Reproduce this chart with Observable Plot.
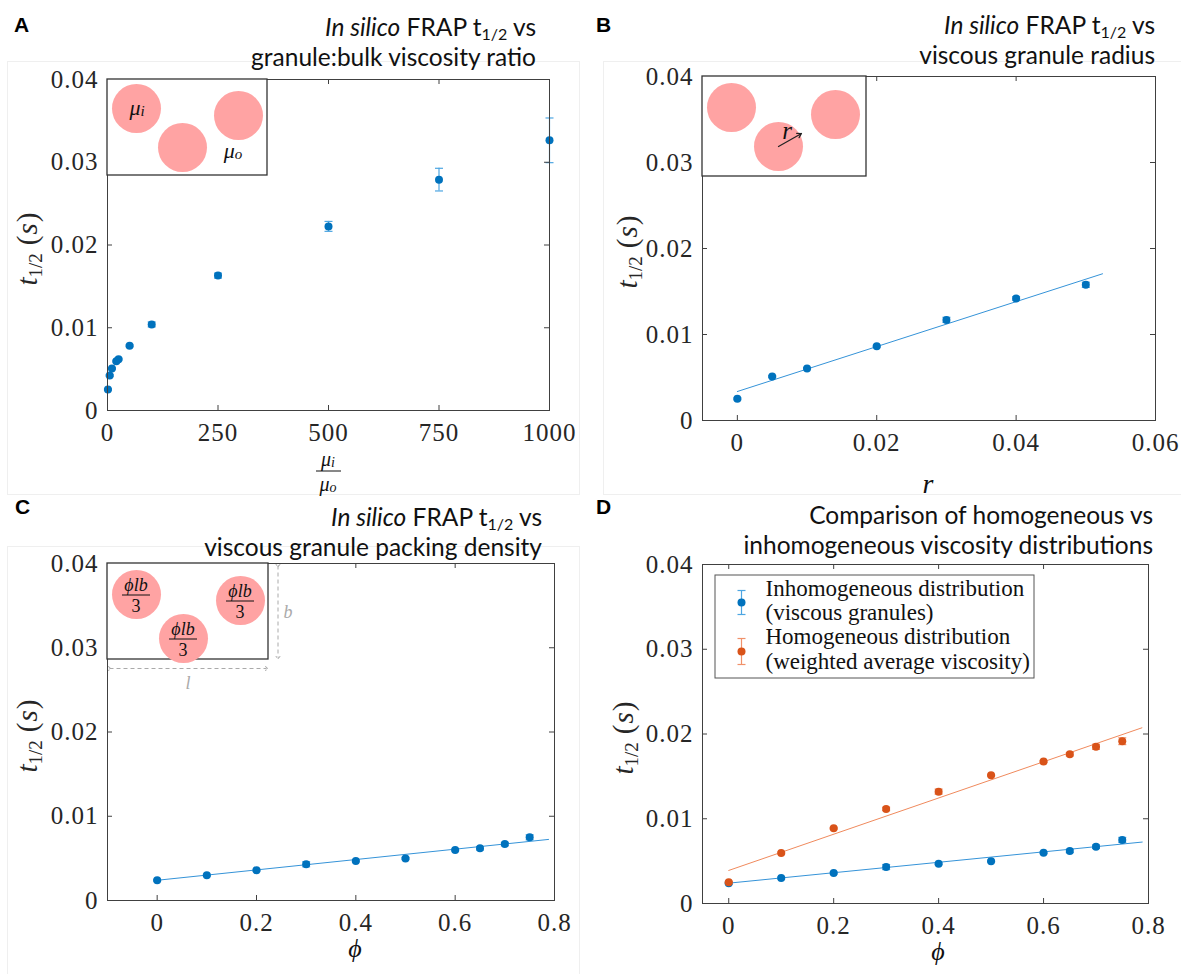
<!DOCTYPE html>
<html><head><meta charset="utf-8">
<script src="https://cdn.jsdelivr.net/npm/d3@7"></script>
<script src="https://cdn.jsdelivr.net/npm/@observablehq/plot@0.6"></script>
<style>
body{margin:0;background:#fff;}
#fig{position:relative;width:1181px;height:974px;overflow:hidden;background:#fff;}
.title{position:absolute;font-family:Lato,sans-serif;font-size:24.5px;line-height:30px;text-align:right;color:#111;white-space:nowrap;}
.title sub{font-size:16px;vertical-align:-4px;line-height:0}
.letter{position:absolute;font-family:"Liberation Sans",Arial,sans-serif;font-weight:bold;font-size:21px;line-height:21px;color:#000}
.pbox{position:absolute;border:1px solid #efefef;}
</style></head><body><div id="fig"></div>
<script>
// ---------------- data ----------------
const ratioA = [1, 5, 10, 20, 25, 50, 100, 250, 500, 750, 1000];
const tA     = [0.00254, 0.00423, 0.00508, 0.00596, 0.0062, 0.00782, 0.0104, 0.0163, 0.02225, 0.0279, 0.03265];
const errA   = [0.0001, 0.0001, 0.0001, 0.0001, 0.0001, 0.0001, 0.0003, 0.0003, 0.0006, 0.00137, 0.0027];

const rB   = [0, 0.005, 0.01, 0.02, 0.03, 0.04, 0.05];
const tB   = [0.00252, 0.00512, 0.00605, 0.00864, 0.0117, 0.01419, 0.01578];
const errB = [0.0001, 0.0001, 0.0001, 0.0001, 0.0003, 0.0002, 0.0003];
const fitBx = [0, 0.0524];
const fitBy = [0.00337, 0.01706];

const phi       = [0, 0.1, 0.2, 0.3, 0.4, 0.5, 0.6, 0.65, 0.7, 0.75];
const tInhom    = [0.0024, 0.003, 0.0036, 0.0043, 0.0047, 0.005, 0.006, 0.0062, 0.0067, 0.0075];
const errInhom  = [0.0001, 0.0001, 0.0001, 0.0003, 0.0001, 0.0001, 0.0001, 0.0002, 0.0002, 0.0003];
const tHom      = [0.0025, 0.00596, 0.00887, 0.01116, 0.0132, 0.01513, 0.01675, 0.01761, 0.01849, 0.01915];
const errHom    = [0.0001, 0.0001, 0.0001, 0.0002, 0.0003, 0.0001, 0.0001, 0.0002, 0.0003, 0.0004];
const fitInhomX = [0, 0.788];
const fitInhomY = [0.0024, 0.00725];
const fitHomX   = [0, 0.7874];
const fitHomY   = [0.0039, 0.02073];

const yTicks   = [0, 0.01, 0.02, 0.03, 0.04];
const xTicksA  = [0, 250, 500, 750, 1000];
const xTicksB  = [0, 0.02, 0.04, 0.06];
const xTicksCD = [0, 0.2, 0.4, 0.6, 0.8];

const legendLabels = [["Inhomogeneous distribution", "(viscous granules)"],
                      ["Homogeneous distribution", "(weighted average viscosity)"]];

// ---------------- styles ----------------
const BLUE = "#0072BD", BLUE_BAR = "#4DA6E2", BLUE_FIT = "#3593D8";
const ORANGE = "#D95319", ORANGE_BAR = "#F0916A", ORANGE_FIT = "#F08A5D";
const AX = "#404040", TXT = "#262626";
const SERIF = "'Liberation Serif','DejaVu Serif',serif";

const zip = (xs, ys, es) => xs.map((x, i) => ({x, y: ys[i], e: es ? es[i] : 0}));
const capSym = {draw(ctx) { ctx.moveTo(-4, 0); ctx.lineTo(4, 0); }};

const fig = document.getElementById("fig");

function box(l, t, w, h) {
  const d = document.createElement("div");
  d.className = "pbox";
  Object.assign(d.style, {left: l + "px", top: t + "px", width: w + "px", height: h + "px"});
  fig.appendChild(d);
}
box(7, 61, 571, 432);
box(603, 61, 590, 432);
box(7, 546, 571, 440);

function seriesMarks(data, dotColor, barColor) {
  return [
    Plot.ruleX(data, {x: "x", y1: d => d.y - d.e, y2: d => d.y + d.e, stroke: barColor, strokeWidth: 1.2}),
    Plot.dot(data, {x: "x", y: d => d.y - d.e, symbol: capSym, stroke: barColor, fill: "none", strokeWidth: 1.2}),
    Plot.dot(data, {x: "x", y: d => d.y + d.e, symbol: capSym, stroke: barColor, fill: "none", strokeWidth: 1.2}),
    Plot.dot(data, {x: "x", y: "y", r: 4, fill: dotColor, stroke: "none"})
  ];
}

function panel({left, top, width, height, ml, mr, mt, mb, xDomain, xTicks, layers}) {
  const pw = width - ml - mr, ph = height - mt - mb;
  const marks = [
    ...layers,
    Plot.tickX(xTicks, {x: d => d, insetTop: ph - 5, stroke: AX}),
    Plot.tickX(xTicks, {x: d => d, insetBottom: ph - 5, stroke: AX}),
    Plot.tickY(yTicks, {y: d => d, insetRight: pw - 5, stroke: AX}),
    Plot.tickY(yTicks, {y: d => d, insetLeft: pw - 5, stroke: AX}),
    Plot.frame({stroke: AX, strokeWidth: 1}),
    Plot.axisX({ticks: xTicks, tickSize: 0, tickPadding: 13, fontSize: 25, label: null, tickFormat: d => String(d), fill: TXT}),
    Plot.axisY({ticks: yTicks, tickSize: 0, tickPadding: 9, fontSize: 25, label: null, tickFormat: d => String(d), fill: TXT})
  ];
  const svg = Plot.plot({
    width, height, marginLeft: ml, marginRight: mr, marginTop: mt, marginBottom: mb,
    x: {domain: xDomain}, y: {domain: [0, 0.04]},
    style: {fontFamily: SERIF, background: "transparent", overflow: "visible", letterSpacing: "1px"},
    marks
  });
  Object.assign(svg.style, {position: "absolute", left: left + "px", top: top + "px", maxWidth: "none"});
  fig.appendChild(svg);
  return svg;
}

// Panel A
panel({left: 0, top: 0, width: 590, height: 500, ml: 107, mr: 41, mt: 79, mb: 90,
  xDomain: [0, 1000], xTicks: xTicksA,
  layers: seriesMarks(zip(ratioA, tA, errA), BLUE, BLUE_BAR)});

// Panel B
panel({left: 590, top: 0, width: 591, height: 500, ml: 112, mr: 26, mt: 76, mb: 80,
  xDomain: [-0.005, 0.06], xTicks: xTicksB,
  layers: [Plot.line(zip(fitBx, fitBy), {x: "x", y: "y", stroke: BLUE_FIT, strokeWidth: 1}),
           ...seriesMarks(zip(rB, tB, errB), BLUE, BLUE_BAR)]});

// Panel C
panel({left: 0, top: 490, width: 590, height: 484, ml: 107, mr: 36, mt: 73, mb: 74,
  xDomain: [-0.1, 0.8], xTicks: xTicksCD,
  layers: [Plot.line(zip(fitInhomX, fitInhomY), {x: "x", y: "y", stroke: BLUE_FIT, strokeWidth: 1}),
           ...seriesMarks(zip(phi, tInhom, errInhom), BLUE, BLUE_BAR)]});

// Panel D
panel({left: 590, top: 490, width: 591, height: 484, ml: 112, mr: 33, mt: 74, mb: 71,
  xDomain: [-0.05, 0.8], xTicks: xTicksCD,
  layers: [Plot.line(zip(fitInhomX, fitInhomY), {x: "x", y: "y", stroke: BLUE_FIT, strokeWidth: 1}),
           ...seriesMarks(zip(phi, tInhom, errInhom), BLUE, BLUE_BAR),
           Plot.line(zip(fitHomX, fitHomY), {x: "x", y: "y", stroke: ORANGE_FIT, strokeWidth: 1}),
           ...seriesMarks(zip(phi, tHom, errHom), ORANGE, ORANGE_BAR)]});

// ---------------- overlay: insets, legend, math labels ----------------
const insetBoxes = [{x1: 107, x2: 267, y1: 79, y2: 175}, {x1: 702, x2: 866, y1: 76, y2: 176}, {x1: 107, x2: 268, y1: 563, y2: 659}];
const insetCircles = [{x: 136, y: 108}, {x: 182, y: 147}, {x: 238, y: 115},
                      {x: 731, y: 107}, {x: 778, y: 146}, {x: 835, y: 114},
                      {x: 136, y: 594}, {x: 183, y: 638}, {x: 240, y: 600}];
const legendBars = [{x: 741, y: 602, y1: 590, y2: 614, c: BLUE, b: BLUE_BAR}, {x: 741, y: 651, y1: 638, y2: 664, c: ORANGE, b: ORANGE_BAR}];
const legendText = [
  {x: 765, y: 588, t: legendLabels[0][0]}, {x: 765, y: 612, t: legendLabels[0][1]},
  {x: 765, y: 636, t: legendLabels[1][0]}, {x: 765, y: 661, t: legendLabels[1][1]}];

const ov = Plot.plot({
  width: 1181, height: 974, margin: 0,
  x: {domain: [0, 1181], range: [0, 1181], axis: null},
  y: {domain: [0, 974], range: [0, 974], axis: null},
  style: {background: "transparent", overflow: "visible"},
  marks: [
    Plot.rect(insetBoxes, {x1: "x1", x2: "x2", y1: "y1", y2: "y2", fill: "white", stroke: "#333", strokeWidth: 1.3}),
    Plot.dot(insetCircles, {x: "x", y: "y", r: 24.5, fill: "#FFA3A3", stroke: "none"}),
    Plot.arrow([{x1: 778, y1: 146, x2: 801, y2: 133}], {x1: "x1", y1: "y1", x2: "x2", y2: "y2", stroke: "#222", strokeWidth: 1.2, headLength: 6}),
    Plot.link([{x1: 277.5, y1: 565, x2: 277.5, y2: 657}, {x1: 109, y1: 668, x2: 266, y2: 668}],
      {x1: "x1", y1: "y1", x2: "x2", y2: "y2", stroke: "#aaa", strokeWidth: 1, strokeDasharray: "4,3", markerStart: "arrow", markerEnd: "arrow"}),
    Plot.rect([{x1: 715, x2: 1034, y1: 575, y2: 678}], {x1: "x1", x2: "x2", y1: "y1", y2: "y2", fill: "white", stroke: "#555", strokeWidth: 1}),
    Plot.ruleX(legendBars, {x: "x", y1: "y1", y2: "y2", stroke: "b", strokeWidth: 1.2}),
    Plot.dot(legendBars, {x: "x", y: "y1", symbol: capSym, stroke: "b", fill: "none", strokeWidth: 1.2}),
    Plot.dot(legendBars, {x: "x", y: "y2", symbol: capSym, stroke: "b", fill: "none", strokeWidth: 1.2}),
    Plot.dot(legendBars, {x: "x", y: "y", r: 4, fill: "c", stroke: "none"}),
    Plot.text(legendText, {x: "x", y: "y", text: "t", textAnchor: "start", lineAnchor: "middle", fontSize: 23, fontFamily: SERIF, fill: "#111"})
  ]
});
Object.assign(ov.style, {position: "absolute", left: "0px", top: "0px", maxWidth: "none", pointerEvents: "none"});
fig.appendChild(ov);
const S = d3.select(ov);

function txt(x, y, opts = {}) {
  return S.append("text").attr("x", x).attr("y", y)
    .attr("text-anchor", opts.anchor || "middle").attr("dominant-baseline", opts.base || "central")
    .attr("font-family", SERIF).attr("font-size", opts.size || 22)
    .attr("fill", opts.fill || "#111");
}
// inset A labels
{ const t = txt(137, 107); t.append("tspan").attr("font-style", "italic").text("μ");
  t.append("tspan").attr("font-style", "italic").attr("font-size", 15).attr("dy", 4).text("i"); }
{ const t = txt(233, 150); t.append("tspan").attr("font-style", "italic").text("μ");
  t.append("tspan").attr("font-style", "italic").attr("font-size", 15).attr("dy", 4).text("o"); }
// inset B
txt(787, 130, {size: 25}).attr("font-style", "italic").text("r");
// inset C fractions
for (const c of insetCircles.slice(6)) {
  txt(c.x, c.y - 9, {size: 18}).attr("font-style", "italic").text("ϕlb");
  S.append("line").attr("x1", c.x - 14).attr("x2", c.x + 14).attr("y1", c.y + 1).attr("y2", c.y + 1).attr("stroke", "#111").attr("stroke-width", 1);
  txt(c.x, c.y + 12, {size: 18}).text("3");
}
txt(288, 612, {size: 18, fill: "#aaa"}).attr("font-style", "italic").text("b");
txt(188, 683, {size: 18, fill: "#aaa"}).attr("font-style", "italic").text("l");

// x-axis labels
{ const t = txt(328, 459, {size: 20}); t.append("tspan").attr("font-style", "italic").text("μ");
  t.append("tspan").attr("font-style", "italic").attr("font-size", 14).attr("dy", 3).text("i"); }
S.append("line").attr("x1", 316).attr("x2", 341).attr("y1", 471).attr("y2", 471).attr("stroke", "#111");
{ const t = txt(328, 484, {size: 20}); t.append("tspan").attr("font-style", "italic").text("μ");
  t.append("tspan").attr("font-style", "italic").attr("font-size", 14).attr("dy", 3).text("o"); }
txt(928, 483, {size: 28}).attr("font-style", "italic").text("r");
txt(355, 948, {size: 26}).attr("font-style", "italic").text("ϕ");
txt(938, 951, {size: 26}).attr("font-style", "italic").text("ϕ");

// y-axis labels
function ylab(x, y) {
  const t = S.append("text").attr("transform", `translate(${x},${y}) rotate(-90)`)
    .attr("text-anchor", "middle").attr("font-family", SERIF).attr("font-size", 29).attr("fill", TXT);
  t.append("tspan").attr("font-style", "italic").text("t");
  t.append("tspan").attr("font-size", 19).attr("dy", 5).text("1/2");
  t.append("tspan").attr("dy", -5).attr("dx", 8).text("(");
  t.append("tspan").attr("font-style", "italic").attr("dx", 1).text("s");
  t.append("tspan").attr("dx", 1).text(")");
}
ylab(37, 249); ylab(637, 252); ylab(37, 736); ylab(633, 738);

// ---------------- titles & letters ----------------
function title(right, top, l1, l2) {
  [l1, l2].forEach((l, i) => {
    const d = document.createElement("div");
    d.className = "title";
    d.style.right = (1181 - right) + "px"; d.style.top = (top + i * 30) + "px";
    d.innerHTML = l;
    fig.appendChild(d);
  });
}
const tHalf = "t<sub>1/2</sub> vs";
title(536, 12, "<i>In silico</i> FRAP " + tHalf, "granule:bulk viscosity ratio");
title(1155, 10, "<i>In silico</i> FRAP " + tHalf, "viscous granule radius");
title(542, 502, "<i>In silico</i> FRAP " + tHalf, "viscous granule packing density");
title(1153, 500, "Comparison of homogeneous vs", "inhomogeneous viscosity distributions");

function letter(ch, x, y) {
  const d = document.createElement("div");
  d.className = "letter"; d.textContent = ch;
  d.style.left = x + "px"; d.style.top = y + "px";
  fig.appendChild(d);
}
letter("A", 14, 14); letter("B", 596, 14); letter("C", 15, 496); letter("D", 596, 496);
</script></body></html>
